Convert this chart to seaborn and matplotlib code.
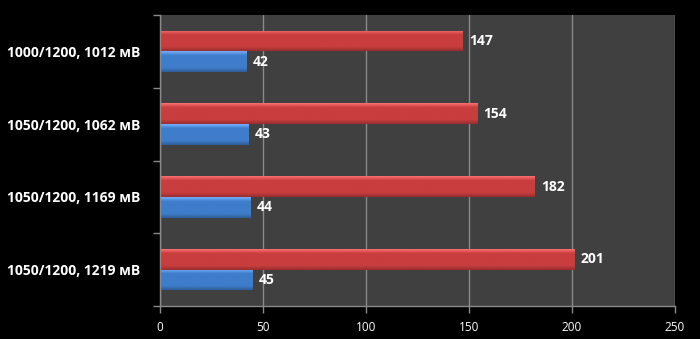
import numpy as np
import pandas as pd
import matplotlib
matplotlib.use("Agg")
import matplotlib.pyplot as plt
import seaborn as sns
from matplotlib.colors import LinearSegmentedColormap

categories = ["1000/1200, 1012 мВ", "1050/1200, 1062 мВ", "1050/1200, 1169 мВ", "1050/1200, 1219 мВ"]
red_values = [147, 154, 182, 201]
blue_values = [42, 43, 44, 45]
series_names = ["A", "B"]
x_ticks = [0, 50, 100, 150, 200, 250]

df = pd.DataFrame({
    "cat": categories * 2,
    "val": red_values + blue_values,
    "series": [series_names[0]] * 4 + [series_names[1]] * 4,
})

sns.set_theme(style="dark")
plt.rcParams["font.family"] = ["Open Sans", "DejaVu Sans"]

fig = plt.figure(figsize=(7.0, 3.39), dpi=100, facecolor="black")
ax = fig.add_axes([160/700, 33/339, 515/700, 291/339])
ax.set_facecolor("#404040")

palette = {series_names[0]: "#c93d3e", series_names[1]: "#3f7dcb"}
sns.barplot(data=df, y="cat", x="val", hue="series", order=categories,
            hue_order=series_names, palette=palette, orient="h", width=0.57,
            ax=ax, legend=False, saturation=1, edgecolor="none", linewidth=0)

ax.set_xlim(0, 250)
ax.set_ylim(3.5, -0.5)
ax.set_xticks(x_ticks)
ax.set_xticklabels([str(t) for t in x_ticks], color="white", fontsize=8.5)
ax.xaxis.grid(True, color="#8a8a8a", linewidth=1)
ax.yaxis.grid(False)
ax.set_axisbelow(True)
ax.set_xlabel("")
ax.set_ylabel("")

ax.set_yticks(range(len(categories)))
ax.set_yticklabels(categories, color="white", fontsize=10, fontweight="bold")
ax.tick_params(axis="y", length=0, pad=14)
ax.set_yticks([-0.5, 0.5, 1.5, 2.5, 3.5], minor=True)
ax.tick_params(axis="y", which="minor", length=5, color="#8a8a8a", width=1, direction="out", left=True)
ax.tick_params(axis="x", length=5, color="#8a8a8a", width=1, direction="out", pad=6, bottom=True)

for s in ["top", "right"]:
    ax.spines[s].set_visible(False)
for s in ["left", "bottom"]:
    ax.spines[s].set_visible(True)
    ax.spines[s].set_color("#8a8a8a")
    ax.spines[s].set_linewidth(1)

# gradient shading on bars
grad = np.linspace(0, 1, 64).reshape(-1, 1)
for p in list(ax.patches):
    fc = np.array(p.get_facecolor()[:3])
    light = np.clip(fc + 0.2, 0, 1)
    dark = fc * 0.75
    cmap = LinearSegmentedColormap.from_list("g", [(0, light), (0.2, fc), (0.8, fc), (1, dark)])
    x0, y0 = p.get_x(), p.get_y()
    w, h = p.get_width(), p.get_height()
    im = ax.imshow(grad, cmap=cmap, extent=(x0, x0 + w, y0 + h, y0), aspect="auto",
                   zorder=p.get_zorder() + 0.1, interpolation="bilinear")
    im.set_clip_path(p)
    ax.text(x0 + w + 3, y0 + h / 2, f"{int(round(w))}", color="white", fontsize=10,
            fontweight="bold", va="center", ha="left", zorder=5)
ax.set_xlim(0, 250)
ax.set_ylim(3.5, -0.5)

fig.savefig("out.png", dpi=100, facecolor="black")
